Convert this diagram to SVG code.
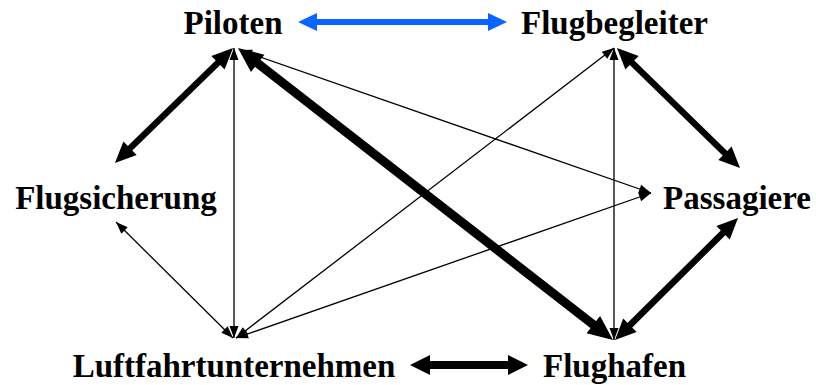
<svg xmlns="http://www.w3.org/2000/svg" width="816" height="385" viewBox="0 0 816 385">
<style>
  .lbl { font-family: "Liberation Serif", "Times New Roman", serif; font-weight: bold; font-size: 33px; fill: #000; text-anchor: middle; }
  .thin { stroke: #000; stroke-width: 1.3; fill: none; marker-start: url(#hThin); marker-end: url(#hThin); }
  .thick { stroke: #000; stroke-width: 6.5; fill: none; marker-start: url(#hM); marker-end: url(#hM); }
  .xthick { stroke: #000; stroke-width: 9; fill: none; marker-start: url(#hL); marker-end: url(#hL); }
  .horiz { stroke: #000; stroke-width: 8; fill: none; marker-start: url(#hH); marker-end: url(#hH); }
  .blue { stroke: #0a64ff; stroke-width: 6; fill: none; marker-start: url(#hB); marker-end: url(#hB); }
</style>
<defs>
  <marker id="hThin" markerUnits="userSpaceOnUse" viewBox="-1 -6 14 12" refX="12" refY="0" markerWidth="14" markerHeight="12" orient="auto-start-reverse" overflow="visible">
    <path d="M0,-4.5 L12,0 L0,4.5 z" fill="#000"/>
  </marker>
  <marker id="hM" markerUnits="userSpaceOnUse" viewBox="-2 -10 23 20" refX="0" refY="0" markerWidth="23" markerHeight="20" orient="auto-start-reverse" overflow="visible">
    <path d="M-1,-9.5 L20,0 L-1,9.5 z" fill="#000"/>
  </marker>
  <marker id="hL" markerUnits="userSpaceOnUse" viewBox="-2 -12 27 24" refX="0" refY="0" markerWidth="27" markerHeight="24" orient="auto-start-reverse" overflow="visible">
    <path d="M-1,-11 L24,0 L-1,11 z" fill="#000"/>
  </marker>
  <marker id="hH" markerUnits="userSpaceOnUse" viewBox="-2 -11 22 22" refX="0" refY="0" markerWidth="22" markerHeight="22" orient="auto-start-reverse" overflow="visible">
    <path d="M-1,-10 L19,0 L-1,10 z" fill="#000"/>
  </marker>
  <marker id="hB" markerUnits="userSpaceOnUse" viewBox="-2 -10 21 20" refX="0" refY="0" markerWidth="21" markerHeight="20" orient="auto-start-reverse" overflow="visible">
    <path d="M-1,-9 L18,0 L-1,9 z" fill="#0a64ff"/>
  </marker>
</defs>

<g id="connectors">
  <line class="blue" x1="316" y1="22" x2="489" y2="22"/>
  <line class="horiz" x1="429" y1="365" x2="509" y2="365"/>
  <line class="thin" x1="234" y1="48" x2="234" y2="338"/>
  <line class="thin" x1="614" y1="48" x2="614" y2="340"/>
  <line class="thin" x1="240" y1="50" x2="651" y2="193"/>
  <line class="thin" x1="236" y1="338" x2="651" y2="193"/>
  <line class="thin" x1="236" y1="338" x2="614" y2="48"/>
  <line class="thin" x1="233" y1="338" x2="116" y2="222"/>
  <line class="thick" x1="218.7" y1="62" x2="129.3" y2="149"/>
  <line class="xthick" x1="256.9" y1="62.7" x2="594.1" y2="325.3"/>
  <line class="thick" x1="631.3" y1="62" x2="725.7" y2="154"/>
  <line class="thick" x1="629.2" y1="325.9" x2="723.8" y2="232.1"/>
</g>

<g id="piloten"><text class="lbl" x="233" y="34">Piloten</text></g>
<g id="flugbegleiter"><text class="lbl" x="614.5" y="34">Flugbegleiter</text></g>
<g id="flugsicherung"><text class="lbl" x="116" y="209">Flugsicherung</text></g>
<g id="passagiere"><text class="lbl" x="737" y="209">Passagiere</text></g>
<g id="luftfahrtunternehmen"><text class="lbl" x="234" y="377">Luftfahrtunternehmen</text></g>
<g id="flughafen"><text class="lbl" x="614.5" y="377">Flughafen</text></g>
</svg>
